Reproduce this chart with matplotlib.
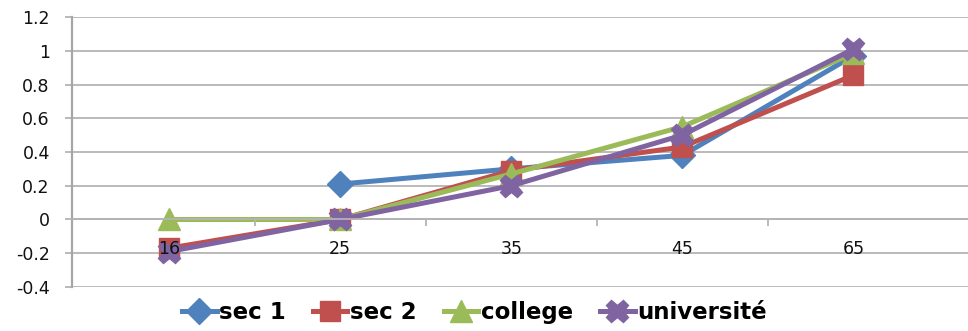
import numpy as np
import matplotlib.pyplot as plt

ages = ['16', '25', '35', '45', '65']
sec1 = [np.nan, 0.21, 0.30, 0.38, 0.97]
sec2 = [-0.17, 0.0, 0.29, 0.43, 0.855]
college = [0.0, 0.0, 0.27, 0.55, 0.985]
universite = [-0.19, 0.0, 0.20, 0.50, 1.01]

series = [
    ('sec 1', sec1, '#4F81BD', 'D', 13),
    ('sec 2', sec2, '#C0504D', 's', 15),
    ('college', college, '#9BBB59', '^', 16),
    ('université', universite, '#8064A2', 'X', 16),
]

fig = plt.figure(figsize=(9.68, 3.31), dpi=100)
ax = fig.add_axes([0.0744, 0.133, 0.9256, 0.8155])

x = np.arange(len(ages))
for name, vals, col, mk, ms in series:
    ax.plot(x, vals, color=col, lw=3.6, marker=mk, ms=ms,
            mec=col, mfc=col, label=name, zorder=2)

ax.set_xlim(-0.567, 4.67)
ax.set_ylim(-0.4, 1.2)
ax.set_yticks(np.arange(-0.4, 1.21, 0.2))
ax.set_yticklabels(['-0.4', '-0.2', '0', '0.2', '0.4', '0.6', '0.8', '1', '1.2'])

grid_col = '#B4B4B4'
ax.yaxis.grid(True, color=grid_col, lw=1.3)
ax.set_axisbelow(True)

for s in ['top', 'right']:
    ax.spines[s].set_visible(False)
ax.spines['left'].set_color('#A6A6A6')
ax.spines['left'].set_linewidth(1.6)
ax.spines['bottom'].set_position(('data', 0))
ax.spines['bottom'].set_color(grid_col)
ax.spines['bottom'].set_linewidth(1.3)

# category labels sit below the zero line, ticks go between categories
ax.set_xticks(x)
ax.set_xticklabels(ages)
ax.set_xticks(np.arange(0.5, 3.6, 1.0), minor=True)
ax.tick_params(axis='x', which='major', length=0, pad=15, labelsize=12.5,
               labelcolor='#111111')
ax.tick_params(axis='x', which='minor', length=5, width=1.3, color=grid_col,
               direction='out')
ax.tick_params(axis='y', length=5, width=1.3, color=grid_col, pad=11,
               labelsize=12.5, labelcolor='#111111')
ax.xaxis.set_zorder(3)

fig.legend(loc='center', bbox_to_anchor=(0.49, 0.055), ncol=4, frameon=False,
           prop={'weight': 'bold', 'size': 16.5}, handlelength=1.5,
           handletextpad=0.1, columnspacing=1.2, markerscale=1.0)

fig.savefig('out.png', dpi=100)
